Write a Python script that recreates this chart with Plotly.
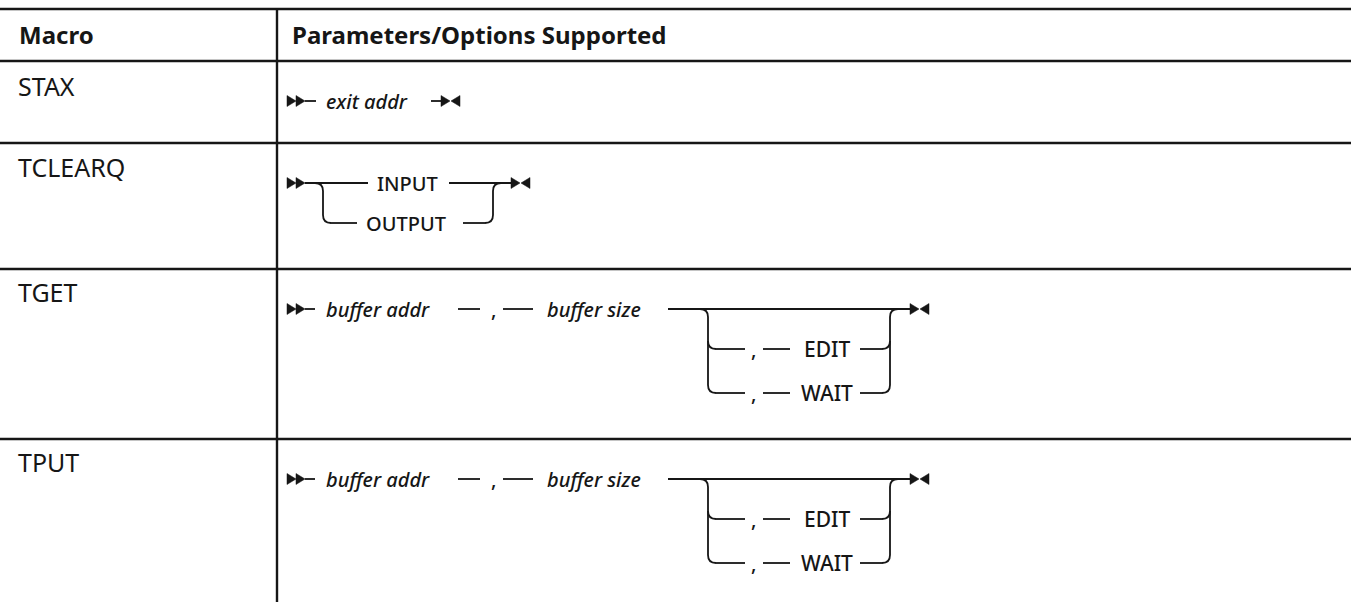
import plotly.graph_objects as go

# ---------------- data ----------------
headers = ["Macro", "Parameters/Options Supported"]
macros = ["STAX", "TCLEARQ", "TGET", "TPUT"]
stax_params = ["exit addr"]
tclearq_options = ["INPUT", "OUTPUT"]
tget_params = ["buffer addr", "buffer size"]
tget_options = ["EDIT", "WAIT"]
tput_params = ["buffer addr", "buffer size"]
tput_options = ["EDIT", "WAIT"]
separator = ","

# ---------------- layout constants ----------------
W, H = 1351, 602
COL_X = 277
ROW_LINES = [9, 61, 143, 269, 439]
LABEL_Y = [86, 167, 292, 462]
HEADER_Y = 34
FONT = "Noto Sans, IBM Plex Sans, sans-serif"
INK = "#161616"
LW = 1.8
R = 8

shapes = []
annotations = []


def hline(x0, x1, y, w=LW):
    shapes.append(dict(type="line", xref="x", yref="y", x0=x0, x1=x1, y0=y, y1=y,
                       line=dict(color=INK, width=w)))


def vline(x, y0, y1, w=LW):
    shapes.append(dict(type="line", xref="x", yref="y", x0=x, x1=x, y0=y0, y1=y1,
                       line=dict(color=INK, width=w)))


def path(d, fill=None):
    s = dict(type="path", xref="x", yref="y", path=d, line=dict(color=INK, width=LW))
    if fill:
        s["fillcolor"] = fill
        s["line"] = dict(color=INK, width=0.5)
    shapes.append(s)


def tri_right(x, y, w=9, h=11):
    path(f"M {x},{y - h/2} L {x + w},{y} L {x},{y + h/2} Z", fill=INK)


def tri_left(x, y, w=9, h=11):
    path(f"M {x},{y - h/2} L {x - w},{y} L {x},{y + h/2} Z", fill=INK)


def start_arrow(x, y):
    tri_right(x, y)
    tri_right(x + 9, y)


def end_arrow(x, y):
    tri_right(x, y)
    tri_left(x + 19, y)


def text(x, y, s, size=20, italic=False, bold=False, anchor="left", weight=None):
    t = s
    if bold:
        t = f"<b>{t}</b>"
    if italic:
        t = f"<i>{t}</i>"
    f = dict(family=FONT, size=size, color=INK)
    if weight:
        f["weight"] = weight
    annotations.append(dict(x=x, y=y, xref="x", yref="y", text=t, showarrow=False,
                            xanchor=anchor, yanchor="middle", font=f))


def dtext(x, y, s, italic=False, anchor="left", size=20):
    text(x, y, s, size=size, italic=italic, anchor=anchor, weight=500)


def left_branch(x, ytop, ylows):
    path(f"M {x - R},{ytop} Q {x},{ytop} {x},{ytop + R} L {x},{ylows[-1] - R}")
    for yl in ylows:
        path(f"M {x},{yl - R} Q {x},{yl} {x + R},{yl}")


def right_branch(x, ytop, ylows):
    path(f"M {x + R},{ytop} Q {x},{ytop} {x},{ytop + R} L {x},{ylows[-1] - R}")
    for yl in ylows:
        path(f"M {x},{yl - R} Q {x},{yl} {x - R},{yl}")


# ---------------- table grid ----------------
for y in ROW_LINES:
    hline(0, W, y, w=2.4)
vline(COL_X, ROW_LINES[0], H, w=2.4)

text(17, HEADER_Y, headers[0], size=24, bold=True)
text(290, HEADER_Y, headers[1], size=24, bold=True)
for lab, ly in zip(macros, LABEL_Y):
    text(16, ly, lab, size=25)

# ---------------- STAX ----------------
y = ROW_LINES[1] + 40
start_arrow(287, y)
hline(305, 316, y)
dtext(324, y, stax_params[0], italic=True)
hline(431, 441, y)
end_arrow(441, y)

# ---------------- TCLEARQ ----------------
y = ROW_LINES[2] + 40
y2 = y + 40
start_arrow(287, y)
hline(305, 368, y)
dtext(407, y, tclearq_options[0], anchor="center")
hline(449, 511, y)
end_arrow(511, y)
left_branch(323, y, [y2])
hline(331, 357, y2)
dtext(406, y2, tclearq_options[1], anchor="center")
hline(463, 485, y2)
right_branch(493, y, [y2])


# ---------------- TGET / TPUT ----------------
def buffer_row(sep, params, options):
    y = sep + 40
    ye = sep + 80
    yw = sep + 124
    start_arrow(287, y)
    hline(305, 315, y)
    dtext(324, y, params[0], italic=True)
    hline(458, 480, y)
    dtext(493, y, separator, anchor="center")
    hline(503, 533, y)
    dtext(545, y, params[1], italic=True)
    hline(668, 910, y)
    end_arrow(910, y)
    left_branch(708, y, [ye, yw])
    right_branch(890, y, [ye, yw])
    for yy, opt in zip([ye, yw], options):
        hline(716, 745, yy)
        dtext(753, yy, separator, anchor="center")
        hline(763, 790, yy)
        dtext(827, yy, opt, size=21, anchor="center")
        hline(860, 882, yy)


buffer_row(ROW_LINES[3], tget_params, tget_options)
buffer_row(ROW_LINES[4], tput_params, tput_options)

fig = go.Figure()
fig.add_trace(go.Scatter(x=[0, W], y=[0, H], mode="markers",
                         marker=dict(opacity=0), hoverinfo="skip", showlegend=False))
fig.update_layout(
    width=W, height=H,
    margin=dict(l=0, r=0, t=0, b=0),
    paper_bgcolor="white", plot_bgcolor="white",
    xaxis=dict(range=[0, W], visible=False, fixedrange=True),
    yaxis=dict(range=[H, 0], visible=False, fixedrange=True),
    shapes=shapes, annotations=annotations, showlegend=False,
)
fig.write_html("out.html", config={"displayModeBar": False},
               post_script="document.body.style.margin='0px';document.body.style.overflow='hidden';")
